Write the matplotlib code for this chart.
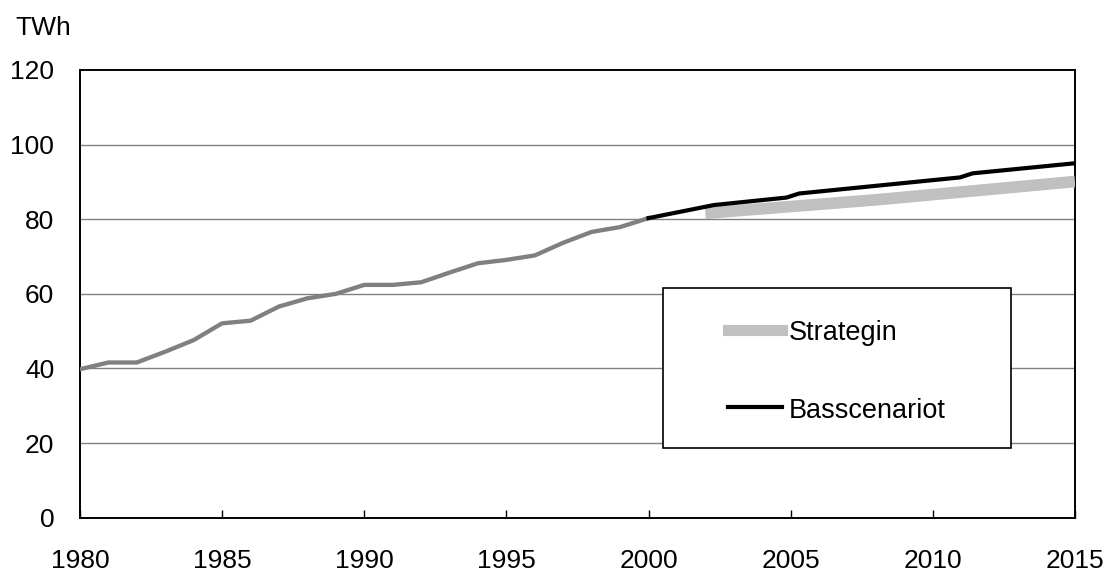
#!/usr/bin/env python3
"""
Electricity use 1980-2015 (TWh): history plus two scenarios
"""

import matplotlib
matplotlib.use('Agg')  # no display
import matplotlib.pyplot as plt
from matplotlib.patches import Rectangle
from matplotlib.lines import Line2D

plt.rcParams['font.family'] = ['Liberation Sans', 'DejaVu Sans']

# Historical series, 1980-2000
hist_years = list(range(1980, 2001))
hist_twh = [39.8, 41.6, 41.6, 44.5, 47.6, 52.1, 52.8, 56.6, 58.8, 60.0,
            62.4, 62.4, 63.1, 65.7, 68.2, 69.1, 70.3, 73.7, 76.6, 77.9,
            80.3]

# Base scenario (points at the kinks)
bas_years = [2000, 2002.3, 2004.85, 2005.3, 2010.95, 2011.4, 2015]
bas_twh = [80.3, 83.8, 85.8, 86.9, 91.2, 92.3, 95.0]

# Strategy scenario
strat_years = [2002, 2008, 2015]
strat_twh = [81.6, 85.2, 90.1]

series_labels = ['Strategin', 'Basscenariot']
x_ticks = [1980, 1985, 1990, 1995, 2000, 2005, 2010, 2015]
y_ticks = [0, 20, 40, 60, 80, 100, 120]

GREY_HIST = '#808080'
GREY_STRAT = '#c0c0c0'


def main():
    fig = plt.figure(figsize=(11.12, 5.76), dpi=100)
    ax = fig.add_axes([0.0719, 0.1012, 0.8948, 0.7773])

    # gridlines first so the lines sit on top
    for v in y_ticks[1:-1]:
        ax.axhline(v, color=GREY_HIST, linewidth=1.0, zorder=1)

    ax.plot(hist_years, hist_twh, color=GREY_HIST, linewidth=3.1,
            solid_joinstyle='round', zorder=3)
    ax.plot(strat_years, strat_twh, color=GREY_STRAT, linewidth=8.4,
            solid_capstyle='butt', zorder=3)
    ax.plot(bas_years, bas_twh, color='black', linewidth=3.0,
            solid_joinstyle='round', zorder=4)

    ax.set_xlim(1980, 2015)
    ax.set_ylim(0, 120)
    ax.set_xticks(x_ticks)
    ax.set_yticks(y_ticks)
    ax.tick_params(axis='x', direction='in', length=6, width=1.0,
                   pad=22.5, labelsize=19)
    ax.tick_params(axis='y', length=0, pad=18.5, labelsize=19)
    for sp in ax.spines.values():
        sp.set_linewidth(1.4)
        sp.set_color('black')

    # legend box drawn by hand (axes fraction coordinates)
    ax.add_patch(Rectangle((0.586, 0.1557), 0.3497, 0.3574,
                           transform=ax.transAxes, facecolor='white',
                           edgecolor='black', linewidth=1.2, zorder=5))
    legend_rows = [
        (0.4193, 0.397, GREY_STRAT, 8.0),
        (0.2479, 0.2234, 'black', 3.0),
    ]
    for (yl, yt, col, lw), label in zip(legend_rows, series_labels):
        ax.add_line(Line2D([0.6513, 0.7055], [yl, yl], transform=ax.transAxes,
                           color=col, linewidth=lw, zorder=6))
        ax.text(0.7126, yt, label, transform=ax.transAxes, fontsize=19.5,
                va='baseline', ha='left', zorder=6)

    fig.text(15 / 1112, 1 - 35 / 576, 'TWh', fontsize=19,
             va='baseline', ha='left')

    fig.savefig('out.png', dpi=100, facecolor='white')
    plt.close(fig)


if __name__ == "__main__":
    main()
